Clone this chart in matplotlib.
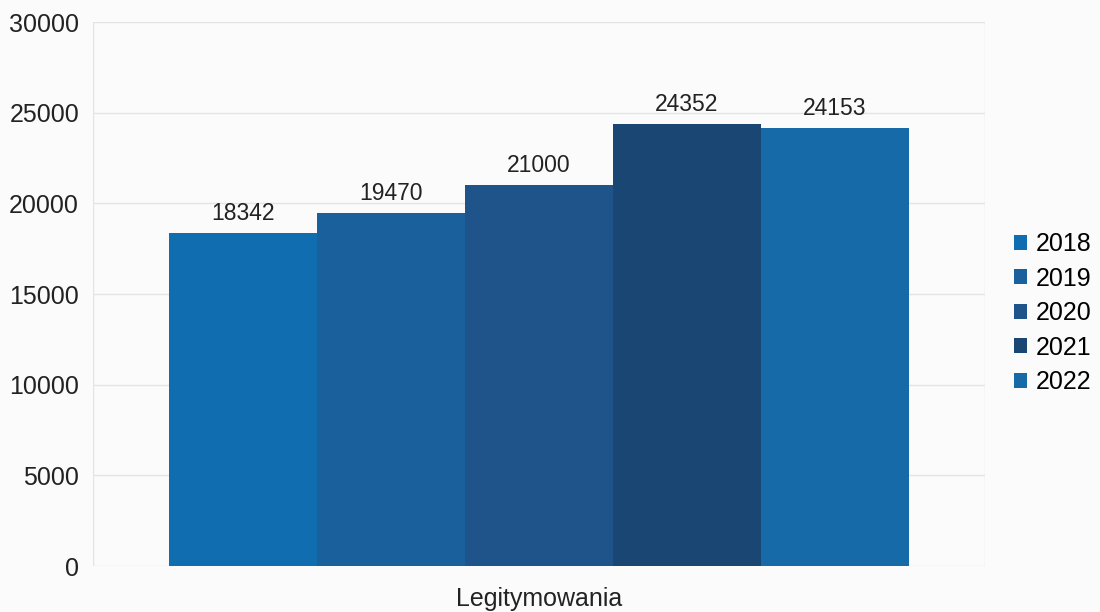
import numpy as np
import matplotlib
matplotlib.use('Agg')
import matplotlib.pyplot as plt

plt.rcParams['font.family'] = ['Liberation Sans', 'DejaVu Sans']

category = 'Legitymowania'
years = ['2018', '2019', '2020', '2021', '2022']
values = [18342, 19470, 21000, 24352, 24153]
colors = ['#0f6db0', '#19609c', '#1e5489', '#1a4674', '#166aa8']

fig = plt.figure(figsize=(11, 6.12), dpi=100, facecolor='#fbfbfb')
ax = fig.add_axes([0.0845, 0.075, 0.8105, 0.889])
ax.set_facecolor('#fbfbfb')

width = 0.83 / len(years)
x = np.arange(len(years)) - (len(years) - 1) / 2
for i in range(len(years)):
    ax.bar(x[i] * width, values[i], width, color=colors[i], label=years[i], zorder=2)
    ax.text(x[i] * width, values[i] + 450, str(values[i]), ha='center', va='bottom',
            fontsize=16.5, color='#222222')

ax.set_xlim(-0.5, 0.5)
ax.set_ylim(0, 30000)
ax.set_yticks(np.arange(0, 30001, 5000))
ax.set_xticks([0])
ax.set_xticklabels([category])
ax.tick_params(axis='both', length=0, labelsize=18, colors='#222222')
ax.tick_params(axis='y', pad=10)
ax.tick_params(axis='x', pad=15)
ax.grid(axis='y', color='#e4e4e4', linewidth=1, zorder=0)
for s in ax.spines.values():
    s.set_visible(False)
ax.axvline(-0.5, color='#e4e4e4', linewidth=1, zorder=0)
ax.axvline(0.5, color='#e4e4e4', linewidth=1, zorder=0)

ax.legend(loc='center left', bbox_to_anchor=(1.013, 0.465), frameon=False,
          fontsize=18, handlelength=0.55, handleheight=0.55, handletextpad=0.35,
          labelspacing=0.42, borderaxespad=0.3)

fig.savefig('out.png', dpi=100, facecolor=fig.get_facecolor())
